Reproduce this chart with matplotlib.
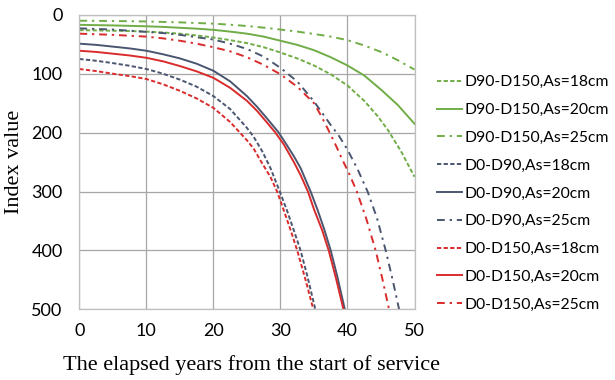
import numpy as np
import matplotlib
matplotlib.use('Agg')
import matplotlib.pyplot as plt

# values (x = years, y = index value)
g18_x = [0, 2.5, 5, 7.5, 10, 12.5, 15, 17.5, 20, 22.5, 25, 27.5, 30, 32.5, 35, 37.5, 40, 42.5, 44.5, 46, 48, 50]
g18_y = [26, 26.5, 27, 27.5, 28.5, 30, 32, 35, 38.5, 43, 48, 55, 64, 74, 86, 101, 120, 146, 172, 195, 232, 275]
g20_x = [0, 2.5, 5, 7.5, 10, 12.5, 15, 17.5, 20, 22.5, 25, 27.5, 30, 32.5, 35, 37.5, 40, 42.5, 45, 47.5, 50]
g20_y = [17, 17.5, 18, 18.7, 19.5, 20.5, 22, 23.5, 25.5, 28.5, 32, 37, 44, 51, 60, 72, 86, 103, 127, 153, 185]
g25_x = [0, 5, 10, 15, 20, 22.5, 25, 27.5, 30, 32.5, 35, 37.5, 40, 42.5, 45, 47.5, 50]
g25_y = [10, 10.5, 11.3, 12.8, 15, 16.8, 19, 21.8, 25, 28.5, 32.5, 37, 43, 52, 63, 77, 93]

b18_x = [0, 2.5, 5, 7.5, 10, 12.5, 15, 17.5, 20, 22.5, 25, 26, 27.3, 28.5, 29.9, 31, 32, 33, 34, 35.2]
b18_y = [75, 78, 82, 86.5, 92, 100, 110, 122, 138, 160, 192, 207, 232, 260, 300, 333, 366, 400, 443, 500]
b20_x = [0, 2.5, 5, 7.5, 10, 12.5, 15, 17.5, 20, 22.5, 25, 26.5, 28, 29.75, 31, 32, 33, 34.5, 35.5, 36.5, 37.5, 38.5, 39.6]
b20_y = [49, 51, 54, 57, 61, 67, 74, 83, 95, 113, 138, 156, 176, 200, 222, 240, 260, 300, 330, 363, 400, 445, 500]
b25_x = [0, 2.5, 5, 7.5, 10, 12.5, 15, 17.5, 20, 22.5, 25, 27.5, 30, 32.5, 35, 37.5, 38.7, 40, 41.5, 43, 44.4, 45.7, 46.7, 47.7]
b25_y = [23, 24, 25, 27, 29, 31, 34, 38, 42, 49, 58, 71, 90, 113, 147, 187, 205, 229, 262, 300, 345, 400, 448, 500]

r18_x = [0, 2.5, 5, 7.5, 10, 12.5, 15, 17.5, 20, 22.5, 25, 26, 27, 28.5, 29.5, 30.5, 31.5, 32.5, 33.7, 34.9]
r18_y = [92, 95.5, 100, 104, 109, 118, 129, 142, 158, 182, 213, 227, 247, 275, 300, 332, 365, 400, 448, 500]
r20_x = [0, 2.5, 5, 7.5, 10, 12.5, 15, 17.5, 20, 22.5, 25, 26.5, 28, 29.25, 30.5, 32, 33, 34.1, 35, 36.2, 37.2, 38.3, 39.4]
r20_y = [61, 63, 66, 69, 73, 79, 87, 96, 107, 124, 146, 163, 183, 200, 220, 250, 272, 300, 330, 365, 400, 448, 500]
r25_x = [0, 2.5, 5, 7.5, 10, 12.5, 15, 17.5, 20, 22.5, 25, 27.5, 30, 32.5, 35, 36, 37, 38.2, 39.2, 40.3, 41.4, 42.8, 44.2, 45.2, 46.2]
r25_y = [32, 33, 34, 35.5, 37, 40, 44, 49, 55, 62, 72, 85, 101, 122, 150, 170, 192, 220, 245, 271, 300, 346, 400, 448, 500]

labels = ['D90-D150,As=18cm', 'D90-D150,As=20cm', 'D90-D150,As=25cm',
          'D0-D90,As=18cm', 'D0-D90,As=20cm', 'D0-D90,As=25cm',
          'D0-D150,As=18cm', 'D0-D150,As=20cm', 'D0-D150,As=25cm']

green = '#70ad47'
grey = '#4a5670'
red = '#d92b2b'
dash = (0, (2.2, 1.2))
dashdot = (0, (4, 2.5, 1.2, 2.5))

series = [
    (g18_x, g18_y, green, dash), (g20_x, g20_y, green, '-'), (g25_x, g25_y, green, dashdot),
    (b18_x, b18_y, grey, dash), (b20_x, b20_y, grey, '-'), (b25_x, b25_y, grey, dashdot),
    (r18_x, r18_y, red, dash), (r20_x, r20_y, red, '-'), (r25_x, r25_y, red, dashdot),
]

fig = plt.figure(figsize=(6.15, 3.8), dpi=100)
ax = fig.add_axes([0.129, 0.186, 0.545, 0.775])

for (x, y, c, ls), lab in zip(series, labels):
    ax.plot(x, y, color=c, linestyle=ls, linewidth=1.4, label=lab)

ax.set_xlim(0, 50)
ax.set_ylim(500, 0)
ax.set_xticks(range(0, 51, 10))
ax.set_yticks(range(0, 501, 100))
ax.grid(True, color='#a6a6a6', linewidth=0.9)
for s in ax.spines.values():
    s.set_color('#bfbfbf')
    s.set_linewidth(0.9)
ax.tick_params(length=0, labelsize=13)
ax.tick_params(axis='x', pad=10)
ax.tick_params(axis='y', pad=12)
for t in ax.get_xticklabels() + ax.get_yticklabels():
    t.set_fontfamily('Lato')

ax.set_xlabel('The elapsed years from the start of service', fontfamily='Liberation Serif',
              fontsize=16, va='center')
ax.xaxis.set_label_coords(0.515, -0.189)
ax.set_ylabel('Index value', fontfamily='Liberation Serif', fontsize=16, va='center')
ax.yaxis.set_label_coords(-0.192, 0.5)

fig.legend(loc='upper left', bbox_to_anchor=(0.687, 0.839), frameon=False,
           prop={'family': 'Lato', 'size': 11.3}, handlelength=1.63,
           handletextpad=0.15, labelspacing=0.88)

fig.savefig('out.png', dpi=100)
